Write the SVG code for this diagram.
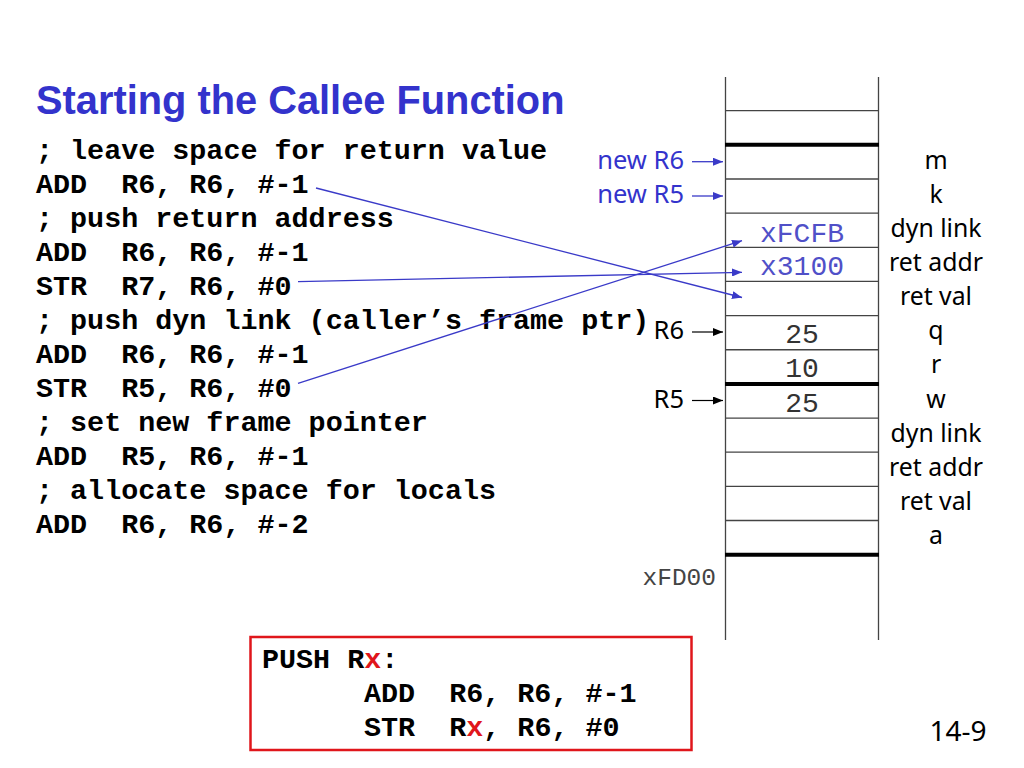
<svg xmlns="http://www.w3.org/2000/svg" width="1024" height="768" viewBox="0 0 1024 768">
<style>
.title{font-family:"Liberation Sans",Arial,sans-serif;font-weight:bold;font-size:39.8px;fill:#3333CC}
.code{font-family:"Liberation Mono","Courier New",monospace;font-weight:bold;font-size:28.4px;fill:#000;white-space:pre}
.lbl{font-family:"Noto Sans","Liberation Sans",sans-serif;font-size:24.8px;fill:#000;text-anchor:middle}
.ptr{font-family:"Noto Sans","Liberation Sans",sans-serif;font-size:25.5px;text-anchor:end}
.cell{font-family:"Liberation Mono","Courier New",monospace;font-size:28px;text-anchor:middle;fill:#333}
.addr{font-family:"Liberation Mono","Courier New",monospace;font-size:24.5px;fill:#444;text-anchor:end}
.thin{stroke:#444;stroke-width:1.3}
.thick{stroke:#000;stroke-width:4}
.blue{stroke:#3a3ac8;stroke-width:1.3;fill:none}
.black{stroke:#000;stroke-width:1.2;fill:none}
</style>
<defs>
<marker id="ab" markerWidth="10" markerHeight="8" refX="10" refY="4" orient="auto" markerUnits="userSpaceOnUse"><path d="M0,0 L10,4 L0,8 Z" fill="#3a3ac8"/></marker>
<marker id="ak" markerWidth="10" markerHeight="8" refX="10" refY="4" orient="auto" markerUnits="userSpaceOnUse"><path d="M0,0 L10,4 L0,8 Z" fill="#000"/></marker>
</defs>
<rect width="1024" height="768" fill="#fff"/>
<text class="title" x="36" y="114">Starting the Callee Function</text>
<g id="code">
<text class="code" x="36" y="159">; leave space for return value</text>
<text class="code" x="36" y="193">ADD  R6, R6, #-1</text>
<text class="code" x="36" y="227">; push return address</text>
<text class="code" x="36" y="261">ADD  R6, R6, #-1</text>
<text class="code" x="36" y="295">STR  R7, R6, #0</text>
<text class="code" x="36" y="329">; push dyn link (caller’s frame ptr)</text>
<text class="code" x="36" y="363">ADD  R6, R6, #-1</text>
<text class="code" x="36" y="397">STR  R5, R6, #0</text>
<text class="code" x="36" y="431">; set new frame pointer</text>
<text class="code" x="36" y="465">ADD  R5, R6, #-1</text>
<text class="code" x="36" y="499">; allocate space for locals</text>
<text class="code" x="36" y="533">ADD  R6, R6, #-2</text>
</g>
<g id="stack">
<line class="thin" x1="725.5" y1="77" x2="725.5" y2="640"/>
<line class="thin" x1="878.5" y1="77" x2="878.5" y2="640"/>
<line class="thin" x1="725" y1="110.7" x2="879" y2="110.7"/>
<line class="thick" x1="725" y1="144.85" x2="879" y2="144.85"/>
<line class="thin" x1="725" y1="179" x2="879" y2="179"/>
<line class="thin" x1="725" y1="213.15" x2="879" y2="213.15"/>
<line class="thin" x1="725" y1="247.3" x2="879" y2="247.3"/>
<line class="thin" x1="725" y1="281.45" x2="879" y2="281.45"/>
<line class="thin" x1="725" y1="315.6" x2="879" y2="315.6"/>
<line class="thin" x1="725" y1="349.75" x2="879" y2="349.75"/>
<line class="thick" x1="725" y1="383.9" x2="879" y2="383.9"/>
<line class="thin" x1="725" y1="418.05" x2="879" y2="418.05"/>
<line class="thin" x1="725" y1="452.2" x2="879" y2="452.2"/>
<line class="thin" x1="725" y1="486.35" x2="879" y2="486.35"/>
<line class="thin" x1="725" y1="520.5" x2="879" y2="520.5"/>
<line class="thick" x1="725" y1="554.65" x2="879" y2="554.65"/>
<text class="cell" x="802" y="242" style="fill:#5050c8">xFCFB</text>
<text class="cell" x="802" y="275" style="fill:#5050c8">x3100</text>
<text class="cell" x="802" y="343">25</text>
<text class="cell" x="802" y="377">10</text>
<text class="cell" x="802" y="412">25</text>
<text class="addr" x="716" y="585">xFD00</text>
</g>
<g id="labels">
<text class="lbl" x="936" y="169">m</text>
<text class="lbl" x="936" y="203">k</text>
<text class="lbl" x="936" y="237">dyn link</text>
<text class="lbl" x="936" y="271">ret addr</text>
<text class="lbl" x="936" y="305">ret val</text>
<text class="lbl" x="936" y="339">q</text>
<text class="lbl" x="936" y="373">r</text>
<text class="lbl" x="936" y="408">w</text>
<text class="lbl" x="936" y="442">dyn link</text>
<text class="lbl" x="936" y="476">ret addr</text>
<text class="lbl" x="936" y="510">ret val</text>
<text class="lbl" x="936" y="544">a</text>
</g>
<g id="pointers">
<text class="ptr" x="684" y="169" fill="#3333CC">new R6</text>
<text class="ptr" x="684" y="203" fill="#3333CC">new R5</text>
<text class="ptr" x="684" y="339" fill="#000">R6</text>
<text class="ptr" x="684" y="408" fill="#000">R5</text>
</g>
<g id="connectors">
<line class="blue" x1="692" y1="161.7" x2="723" y2="161.7" marker-end="url(#ab)"/>
<line class="blue" x1="692" y1="196" x2="723" y2="196" marker-end="url(#ab)"/>
<line class="black" x1="692" y1="332" x2="723" y2="332" marker-end="url(#ak)"/>
<line class="black" x1="692" y1="400.5" x2="723" y2="400.5" marker-end="url(#ak)"/>
<line class="blue" x1="316" y1="188" x2="742" y2="297.5" marker-end="url(#ab)"/>
<line class="blue" x1="298" y1="281.7" x2="742" y2="272.3" marker-end="url(#ab)"/>
<line class="blue" x1="298" y1="383.3" x2="742" y2="240.7" marker-end="url(#ab)"/>
</g>
<g id="push-box">
<rect x="250.5" y="637" width="441" height="113" fill="none" stroke="#e0161b" stroke-width="2.5"/>
<text class="code" x="262" y="668">PUSH R<tspan fill="#e0161b">x</tspan>:</text>
<text class="code" x="364" y="702">ADD  R6, R6, #-1</text>
<text class="code" x="364" y="736">STR  R<tspan fill="#e0161b">x</tspan>, R6, #0</text>
</g>
<text id="page" x="958" y="741" style="font-family:'Noto Sans','Liberation Sans',sans-serif;font-size:28px;text-anchor:middle;fill:#000">14-9</text>
</svg>
